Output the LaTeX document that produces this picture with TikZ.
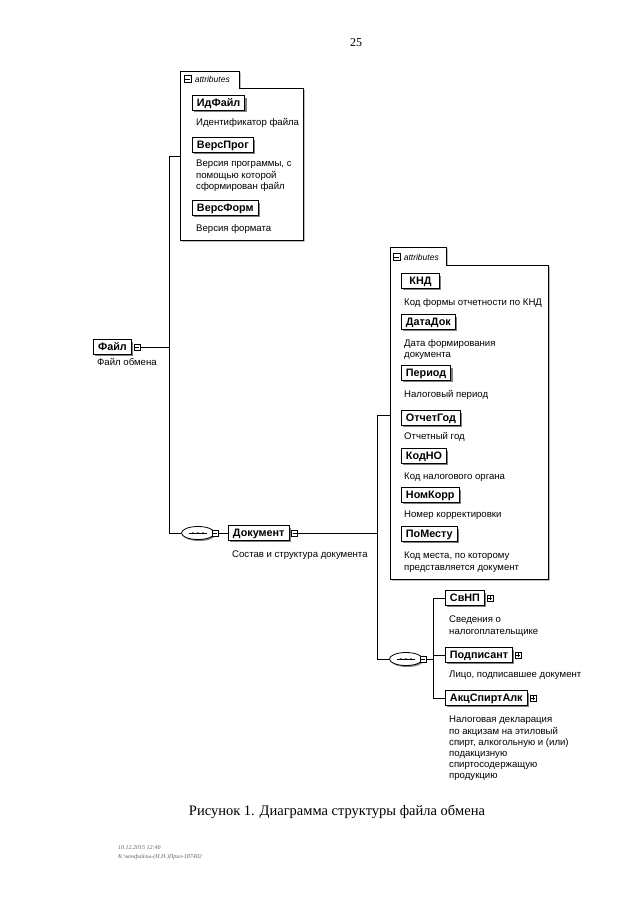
\documentclass[tikz,border=0pt]{standalone}
\usepackage{fontspec}
\setmainfont{Liberation Serif}
\setsansfont{Liberation Sans}
\usetikzlibrary{shapes.geometric,shadows}
\newcommand{\namefont}{\sffamily\bfseries\fontsize{10.8}{12}\selectfont}
\newcommand{\descfont}{\sffamily\fontsize{9.6}{11.2}\selectfont}
\tikzset{
  elem/.style={draw, line width=0.9pt, fill=white, anchor=west, inner xsep=4.5pt, inner ysep=3pt,
    text height=7.8pt, text depth=0.6pt, minimum width=38pt, font=\namefont,
    drop shadow={shadow xshift=1.8pt, shadow yshift=-1.8pt, fill=black!50, opacity=1}},
  desc/.style={anchor=north west, inner sep=0pt, align=left, font=\descfont},
  sqm/.style={draw, line width=0.6pt, fill=white, minimum size=6pt, inner sep=0pt, anchor=west,
    path picture={\draw[line width=0.5pt] ([xshift=1pt]path picture bounding box.west) -- ([xshift=-1pt]path picture bounding box.east);}},
  sqp/.style={draw, line width=0.6pt, fill=white, minimum size=6pt, inner sep=0pt, anchor=west,
    path picture={\draw[line width=0.5pt] ([xshift=1pt]path picture bounding box.west) -- ([xshift=-1pt]path picture bounding box.east);
      \draw[line width=0.5pt] ([yshift=-1pt]path picture bounding box.north) -- ([yshift=1pt]path picture bounding box.south);}},
  seqnode/.style={draw, ellipse, line width=0.8pt, fill=white, minimum width=33pt, minimum height=13pt, inner sep=0pt,
    drop shadow={shadow xshift=1.2pt, shadow yshift=-1.5pt, fill=black!50, opacity=1}},
  attrbox/.style={draw, line width=0.8pt, fill=white,
    drop shadow={shadow xshift=1.5pt, shadow yshift=-1.5pt, fill=black!40, opacity=1}},
  attrlbl/.style={anchor=west, inner sep=0pt, font=\sffamily\itshape\fontsize{8.5}{10}\selectfont},
  conn/.style={line width=0.8pt},
}
\begin{document}
\begin{tikzpicture}[x=1pt,y=-1pt]
\useasboundingbox[fill=white] (0,0) rectangle (640,905);

\node[font=\fontsize{12}{14}\selectfont] (pnum) at (356,43) {25};

% attributes of Файл
\path[attrbox] (180,71) -- (239,71) -- (239,88) -- (303,88) -- (303,240) -- (180,240) -- cycle;
\node[sqm, minimum size=7pt] (a1sq) at (184,79) {};
\node[attrlbl] (a1lbl) at ([xshift=3pt]a1sq.east) {attributes};
\coordinate (a1in) at (180,156);

\node[elem] (idf) at (192,103) {ИдФайл};
\node[desc] (idfd) at (196,118) {Идентификатор файла};
\node[elem] (vprog) at (192,145) {ВерсПрог};
\node[desc] (vprogd) at (196,160) {Версия программы, с\\помощью которой\\сформирован файл};
\node[elem] (vform) at (192,208) {ВерсФорм};
\node[desc] (vformd) at (196,224) {Версия формата};

% root
\node[elem] (fajl) at (93,347) {Файл};
\node[sqm] (fajlsq) at ([xshift=2pt]fajl.east) {};
\node[desc] (fajld) at (97,358) {Файл обмена};

\coordinate (t1) at (169,156);
\coordinate (t2) at (169,533);
\path[draw,conn] (fajlsq) -- (fajlsq -| t1);
\path[draw,conn] (a1in) -- (t1) -- (t2);

% Документ
\node[seqnode] (seq1) at (198,533) {};
\node[sqm] (seq1sq) at (212,533) {};
\node[elem] (dok) at (228,533) {Документ};
\node[sqm] (doksq) at ([xshift=2pt]dok.east) {};
\node[desc] (dokd) at (232,551) {Состав и структура документа};
\path[draw,conn] (t2) -- (seq1);
\path[draw,conn] (seq1sq) -- (dok);

% attributes of Документ
\path[attrbox] (390,247) -- (446,247) -- (446,265) -- (548,265) -- (548,579) -- (390,579) -- cycle;
\node[sqm, minimum size=7pt] (a2sq) at (393,257) {};
\node[attrlbl] (a2lbl) at ([xshift=3pt]a2sq.east) {attributes};
\coordinate (a2in) at (390,415);

\node[elem] (knd) at (401,281) {КНД};
\node[desc] (kndd) at (404,298) {Код формы отчетности по КНД};
\node[elem] (datadok) at (401,322) {ДатаДок};
\node[desc] (datadokd) at (404,339) {Дата формирования\\документа};
\node[elem] (period) at (401,373) {Период};
\node[desc] (periodd) at (404,390) {Налоговый период};
\node[elem] (otchgod) at (401,418) {ОтчетГод};
\node[desc] (otchgodd) at (404,432) {Отчетный год};
\node[elem] (kodno) at (401,456) {КодНО};
\node[desc] (kodnod) at (404,473) {Код налогового органа};
\node[elem] (nomkorr) at (401,495) {НомКорр};
\node[desc] (nomkorrd) at (404,511) {Номер корректировки};
\node[elem] (pomestu) at (401,534) {ПоМесту};
\node[desc] (pomestud) at (404,552) {Код места, по которому\\представляется документ};

\coordinate (t3) at (377,533);
\coordinate (t4) at (377,415);
\coordinate (t5) at (377,659);
\path[draw,conn] (doksq) -- (t3);
\path[draw,conn] (a2in) -- (t4) -- (t5);

% children of Документ
\node[seqnode] (seq2) at (406,659) {};
\node[sqm] (seq2sq) at (420,659) {};
\path[draw,conn] (t5) -- (seq2);
\coordinate (b0) at (433,659);
\coordinate (b1) at (433,598);
\coordinate (b3) at (433,698);
\path[draw,conn] (seq2sq) -- (b0);
\path[draw,conn] (b1) -- (b3);

\node[elem] (svnp) at (445,598) {СвНП};
\node[sqp] (svnpsq) at ([xshift=2pt]svnp.east) {};
\node[desc] (svnpd) at (449,616) {Сведения о\\налогоплательщике};
\node[elem] (podp) at (445,655) {Подписант};
\node[sqp] (podpsq) at ([xshift=2pt]podp.east) {};
\node[desc] (podpd) at (449,671) {Лицо, подписавшее документ};
\node[elem] (akc) at (445,698) {АкцСпиртАлк};
\node[sqp] (akcsq) at ([xshift=2pt]akc.east) {};
\node[desc] (akcd) at (449,716) {Налоговая декларация\\по акцизам на этиловый\\спирт, алкогольную и (или)\\подакцизную\\спиртосодержащую\\продукцию};

\path[draw,conn] (b1) -- (svnp);
\path[draw,conn] (b1 |- podp) -- (podp);
\path[draw,conn] (b3) -- (akc);

% sequence marks
\foreach \s in {seq1,seq2} {
  \draw[line width=0.6pt] ([xshift=-9pt]\s.center) -- ([xshift=9pt]\s.center);
  \foreach \d in {-5,0,5}
    \fill ([xshift=\d pt]\s.center) circle (0.9pt);
}

\node[font=\fontsize{14.5}{16}\selectfont] (cap) at (337,812) {Рисунок 1. Диаграмма структуры файла обмена};
\node[anchor=north west, inner sep=0pt, align=left, text=black!60, font=\itshape\fontsize{6}{9}\selectfont] (foot) at (118,845) {10.12.2015 12:40\\К:\textbackslash конфайлы-(Н.Н.)Прил-187402};
\end{tikzpicture}
\end{document}
